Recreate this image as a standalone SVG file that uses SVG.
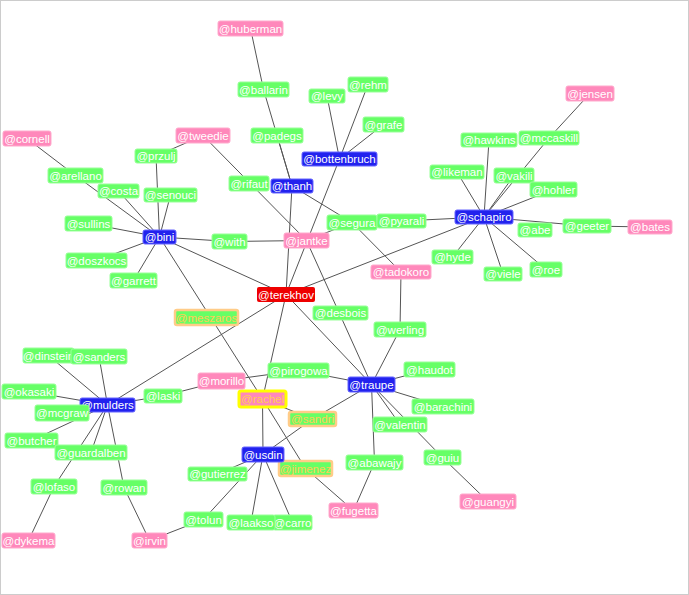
<svg xmlns="http://www.w3.org/2000/svg" width="689" height="595" viewBox="0 0 689 595">
<style>
text{font-family:"Liberation Sans",Arial,sans-serif;font-size:11.5px;fill:#fff;text-anchor:middle;dominant-baseline:central}
.g rect{fill:#66ff66;stroke:#99ff99;stroke-width:1}
.p rect{fill:#ff88bb;stroke:#ffaacc;stroke-width:1}
.b rect{fill:#2222ee;stroke:#6666ff;stroke-width:1}
.r rect{fill:#ee0000}
.o rect{fill:#66ff66;stroke:#ffcc88;stroke-width:2.5}
.o text,.y text{fill:#ffcc55}
.y rect{fill:#ff88bb;stroke:#ffff00;stroke-width:3}
#edges line{stroke:#555;stroke-width:1}
</style>
<rect x="0.5" y="0.5" width="688" height="594" fill="#fff" stroke="#ccc"/>
<g id="edges">
<line x1="250.5" y1="28.5" x2="263.5" y2="89.5"/>
<line x1="263.5" y1="89.5" x2="292" y2="186"/>
<line x1="277" y1="135.5" x2="292" y2="186"/>
<line x1="327" y1="96" x2="339.5" y2="159"/>
<line x1="368" y1="84.5" x2="339.5" y2="159"/>
<line x1="383.5" y1="124.5" x2="339.5" y2="159"/>
<line x1="339.5" y1="159" x2="286" y2="294.5"/>
<line x1="292" y1="186" x2="352" y2="222.5"/>
<line x1="292" y1="186" x2="286" y2="294.5"/>
<line x1="203" y1="135.5" x2="156" y2="156"/>
<line x1="203" y1="135.5" x2="306.5" y2="240.5"/>
<line x1="27" y1="138.5" x2="75.5" y2="175.5"/>
<line x1="75.5" y1="175.5" x2="159.5" y2="237"/>
<line x1="118.5" y1="191" x2="159.5" y2="237"/>
<line x1="156" y1="156" x2="159.5" y2="237"/>
<line x1="170.5" y1="195" x2="159.5" y2="237"/>
<line x1="88.5" y1="223.5" x2="159.5" y2="237"/>
<line x1="96.5" y1="260.5" x2="159.5" y2="237"/>
<line x1="133.5" y1="280.5" x2="159.5" y2="237"/>
<line x1="159.5" y1="237" x2="229.5" y2="241.5"/>
<line x1="229.5" y1="241.5" x2="306.5" y2="240.5"/>
<line x1="159.5" y1="237" x2="286" y2="294.5"/>
<line x1="159.5" y1="237" x2="262.5" y2="399"/>
<line x1="306.5" y1="240.5" x2="352" y2="222.5"/>
<line x1="306.5" y1="240.5" x2="371.5" y2="384.5"/>
<line x1="352" y1="222.5" x2="401" y2="272"/>
<line x1="401.5" y1="221" x2="484" y2="217"/>
<line x1="457" y1="172" x2="484" y2="217"/>
<line x1="489" y1="140" x2="484" y2="217"/>
<line x1="514" y1="175.5" x2="484" y2="217"/>
<line x1="549" y1="138" x2="484" y2="217"/>
<line x1="549" y1="138" x2="590" y2="93.5"/>
<line x1="553.5" y1="189.5" x2="484" y2="217"/>
<line x1="484" y1="217" x2="587" y2="226"/>
<line x1="587" y1="226" x2="650" y2="227"/>
<line x1="484" y1="217" x2="452.5" y2="257"/>
<line x1="484" y1="217" x2="503" y2="274"/>
<line x1="484" y1="217" x2="546" y2="269.5"/>
<line x1="484" y1="217" x2="286" y2="294.5"/>
<line x1="401" y1="272" x2="400" y2="329.5"/>
<line x1="400" y1="329.5" x2="371.5" y2="384.5"/>
<line x1="286" y1="294.5" x2="107.5" y2="405"/>
<line x1="286" y1="294.5" x2="262.5" y2="399"/>
<line x1="286" y1="294.5" x2="371.5" y2="384.5"/>
<line x1="298.5" y1="370.5" x2="221.5" y2="381"/>
<line x1="298.5" y1="370.5" x2="371.5" y2="384.5"/>
<line x1="221.5" y1="381" x2="163" y2="396"/>
<line x1="163" y1="396" x2="107.5" y2="405"/>
<line x1="262.5" y1="399" x2="312.5" y2="419"/>
<line x1="312.5" y1="419" x2="371.5" y2="384.5"/>
<line x1="312.5" y1="419" x2="263" y2="454.5"/>
<line x1="262.5" y1="399" x2="263" y2="454.5"/>
<line x1="262.5" y1="399" x2="305.5" y2="468.5"/>
<line x1="305.5" y1="468.5" x2="353.5" y2="510.5"/>
<line x1="371.5" y1="384.5" x2="429.5" y2="369.5"/>
<line x1="371.5" y1="384.5" x2="443" y2="406.5"/>
<line x1="371.5" y1="384.5" x2="400" y2="424.5"/>
<line x1="371.5" y1="384.5" x2="442.5" y2="457.5"/>
<line x1="442.5" y1="457.5" x2="488" y2="501.5"/>
<line x1="371.5" y1="384.5" x2="374.5" y2="462.5"/>
<line x1="374.5" y1="462.5" x2="353.5" y2="510.5"/>
<line x1="263" y1="454.5" x2="217.5" y2="474"/>
<line x1="263" y1="454.5" x2="203.5" y2="519.5"/>
<line x1="263" y1="454.5" x2="251" y2="522.5"/>
<line x1="263" y1="454.5" x2="292.5" y2="522.5"/>
<line x1="203.5" y1="519.5" x2="149.5" y2="540.5"/>
<line x1="149.5" y1="540.5" x2="124" y2="487.5"/>
<line x1="124" y1="487.5" x2="107.5" y2="405"/>
<line x1="48.5" y1="355.5" x2="107.5" y2="405"/>
<line x1="99" y1="356.5" x2="107.5" y2="405"/>
<line x1="29" y1="391.5" x2="107.5" y2="405"/>
<line x1="62" y1="413" x2="107.5" y2="405"/>
<line x1="31.5" y1="440.5" x2="107.5" y2="405"/>
<line x1="91" y1="452.5" x2="107.5" y2="405"/>
<line x1="54" y1="486.5" x2="107.5" y2="405"/>
<line x1="54" y1="486.5" x2="28.5" y2="540.5"/>
</g>
<g id="n-huberman" class="p"><rect x="218" y="21" width="65" height="15" rx="2"/><text x="250.5" y="28.5">@huberman</text></g>
<g id="n-ballarin" class="g"><rect x="238" y="82" width="51" height="15" rx="2"/><text x="263.5" y="89.5">@ballarin</text></g>
<g id="n-levy" class="g"><rect x="309" y="89" width="36" height="14" rx="2"/><text x="327" y="96">@levy</text></g>
<g id="n-rehm" class="g"><rect x="348" y="77" width="40" height="15" rx="2"/><text x="368" y="84.5">@rehm</text></g>
<g id="n-grafe" class="g"><rect x="363" y="117" width="41" height="15" rx="2"/><text x="383.5" y="124.5">@grafe</text></g>
<g id="n-padegs" class="g"><rect x="251" y="128" width="52" height="15" rx="2"/><text x="277" y="135.5">@padegs</text></g>
<g id="n-bottenbruch" class="b"><rect x="302" y="152" width="75" height="14" rx="2"/><text x="339.5" y="159">@bottenbruch</text></g>
<g id="n-thanh" class="b"><rect x="271" y="179" width="42" height="14" rx="2"/><text x="292" y="186">@thanh</text></g>
<g id="n-tweedie" class="p"><rect x="176" y="128" width="54" height="15" rx="2"/><text x="203" y="135.5">@tweedie</text></g>
<g id="n-cornell" class="p"><rect x="3" y="131" width="48" height="15" rx="2"/><text x="27" y="138.5">@cornell</text></g>
<g id="n-przulj" class="g"><rect x="135" y="149" width="42" height="14" rx="2"/><text x="156" y="156">@przulj</text></g>
<g id="n-arellano" class="g"><rect x="48" y="168" width="55" height="15" rx="2"/><text x="75.5" y="175.5">@arellano</text></g>
<g id="n-costa" class="g"><rect x="98" y="184" width="41" height="14" rx="2"/><text x="118.5" y="191">@costa</text></g>
<g id="n-senouci" class="g"><rect x="144" y="188" width="53" height="14" rx="2"/><text x="170.5" y="195">@senouci</text></g>
<g id="n-rifaut" class="g"><rect x="229" y="176" width="40" height="15" rx="2"/><text x="249" y="183.5">@rifaut</text></g>
<g id="n-sullins" class="g"><rect x="65" y="216" width="47" height="15" rx="2"/><text x="88.5" y="223.5">@sullins</text></g>
<g id="n-bini" class="b"><rect x="143" y="230" width="33" height="14" rx="2"/><text x="159.5" y="237">@bini</text></g>
<g id="n-with" class="g"><rect x="212" y="234" width="35" height="15" rx="2"/><text x="229.5" y="241.5">@with</text></g>
<g id="n-jantke" class="p"><rect x="284" y="233" width="45" height="15" rx="2"/><text x="306.5" y="240.5">@jantke</text></g>
<g id="n-doszkocs" class="g"><rect x="66" y="253" width="61" height="15" rx="2"/><text x="96.5" y="260.5">@doszkocs</text></g>
<g id="n-garrett" class="g"><rect x="110" y="273" width="47" height="15" rx="2"/><text x="133.5" y="280.5">@garrett</text></g>
<g id="n-terekhov" class="r"><rect x="257" y="287" width="58" height="15" rx="2"/><text x="286" y="294.5">@terekhov</text></g>
<g id="n-segura" class="g"><rect x="327" y="215" width="50" height="15" rx="2"/><text x="352" y="222.5">@segura</text></g>
<g id="n-pyarali" class="g"><rect x="377" y="214" width="49" height="14" rx="2"/><text x="401.5" y="221">@pyarali</text></g>
<g id="n-schapiro" class="b"><rect x="455" y="210" width="58" height="14" rx="2"/><text x="484" y="217">@schapiro</text></g>
<g id="n-likeman" class="g"><rect x="430" y="165" width="54" height="14" rx="2"/><text x="457" y="172">@likeman</text></g>
<g id="n-hawkins" class="g"><rect x="461" y="133" width="56" height="14" rx="2"/><text x="489" y="140">@hawkins</text></g>
<g id="n-mccaskill" class="g"><rect x="519" y="131" width="60" height="14" rx="2"/><text x="549" y="138">@mccaskill</text></g>
<g id="n-jensen" class="p"><rect x="566" y="86" width="48" height="15" rx="2"/><text x="590" y="93.5">@jensen</text></g>
<g id="n-vakili" class="g"><rect x="494" y="168" width="40" height="15" rx="2"/><text x="514" y="175.5">@vakili</text></g>
<g id="n-hohler" class="g"><rect x="530" y="182" width="47" height="15" rx="2"/><text x="553.5" y="189.5">@hohler</text></g>
<g id="n-abe" class="g"><rect x="518" y="223" width="34" height="14" rx="2"/><text x="535" y="230">@abe</text></g>
<g id="n-geeter" class="g"><rect x="563" y="219" width="48" height="14" rx="2"/><text x="587" y="226">@geeter</text></g>
<g id="n-bates" class="p"><rect x="628" y="220" width="44" height="14" rx="2"/><text x="650" y="227">@bates</text></g>
<g id="n-hyde" class="g"><rect x="432" y="250" width="41" height="14" rx="2"/><text x="452.5" y="257">@hyde</text></g>
<g id="n-viele" class="g"><rect x="484" y="267" width="38" height="14" rx="2"/><text x="503" y="274">@viele</text></g>
<g id="n-roe" class="g"><rect x="530" y="262" width="32" height="15" rx="2"/><text x="546" y="269.5">@roe</text></g>
<g id="n-tadokoro" class="p"><rect x="371" y="265" width="60" height="14" rx="2"/><text x="401" y="272">@tadokoro</text></g>
<g id="n-desbois" class="g"><rect x="313" y="306" width="55" height="14" rx="2"/><text x="340.5" y="313">@desbois</text></g>
<g id="n-werling" class="g"><rect x="374" y="322" width="52" height="15" rx="2"/><text x="400" y="329.5">@werling</text></g>
<g id="n-haudot" class="g"><rect x="404" y="362" width="51" height="15" rx="2"/><text x="429.5" y="369.5">@haudot</text></g>
<g id="n-traupe" class="b"><rect x="348" y="377" width="47" height="15" rx="2"/><text x="371.5" y="384.5">@traupe</text></g>
<g id="n-pirogowa" class="g"><rect x="268" y="363" width="61" height="15" rx="2"/><text x="298.5" y="370.5">@pirogowa</text></g>
<g id="n-barachini" class="g"><rect x="412" y="399" width="62" height="15" rx="2"/><text x="443" y="406.5">@barachini</text></g>
<g id="n-valentin" class="g"><rect x="373" y="417" width="54" height="15" rx="2"/><text x="400" y="424.5">@valentin</text></g>
<g id="n-abawajy" class="g"><rect x="346" y="455" width="57" height="15" rx="2"/><text x="374.5" y="462.5">@abawajy</text></g>
<g id="n-guiu" class="g"><rect x="424" y="450" width="37" height="15" rx="2"/><text x="442.5" y="457.5">@guiu</text></g>
<g id="n-guangyi" class="p"><rect x="460" y="494" width="56" height="15" rx="2"/><text x="488" y="501.5">@guangyi</text></g>
<g id="n-fugetta" class="p"><rect x="329" y="503" width="49" height="15" rx="2"/><text x="353.5" y="510.5">@fugetta</text></g>
<g id="n-rachel" class="y"><rect x="239" y="391" width="47" height="16" rx="2"/><text x="262.5" y="399">@rachel</text></g>
<g id="n-sandri" class="o"><rect x="289" y="412" width="47" height="14" rx="2"/><text x="312.5" y="419">@sandri</text></g>
<g id="n-jimenez" class="o"><rect x="279" y="461" width="53" height="15" rx="2"/><text x="305.5" y="468.5">@jimenez</text></g>
<g id="n-usdin" class="b"><rect x="242" y="447" width="42" height="15" rx="2"/><text x="263" y="454.5">@usdin</text></g>
<g id="n-meszaros" class="o"><rect x="175" y="310" width="63" height="15" rx="2"/><text x="206.5" y="317.5">@meszaros</text></g>
<g id="n-dinstein" class="g"><rect x="23" y="348" width="51" height="15" rx="2"/><text x="48.5" y="355.5">@dinstein</text></g>
<g id="n-sanders" class="g"><rect x="71" y="349" width="56" height="15" rx="2"/><text x="99" y="356.5">@sanders</text></g>
<g id="n-okasaki" class="g"><rect x="2" y="384" width="54" height="15" rx="2"/><text x="29" y="391.5">@okasaki</text></g>
<g id="n-mulders" class="b"><rect x="80" y="398" width="55" height="14" rx="2"/><text x="107.5" y="405">@mulders</text></g>
<g id="n-laski" class="g"><rect x="144" y="389" width="38" height="14" rx="2"/><text x="163" y="396">@laski</text></g>
<g id="n-morillo" class="p"><rect x="198" y="373" width="47" height="16" rx="2"/><text x="221.5" y="381">@morillo</text></g>
<g id="n-mcgraw" class="g"><rect x="35" y="405" width="54" height="16" rx="2"/><text x="62" y="413">@mcgraw</text></g>
<g id="n-butcher" class="g"><rect x="5" y="433" width="53" height="15" rx="2"/><text x="31.5" y="440.5">@butcher</text></g>
<g id="n-guardalben" class="g"><rect x="55" y="445" width="72" height="15" rx="2"/><text x="91" y="452.5">@guardalben</text></g>
<g id="n-lofaso" class="g"><rect x="31" y="479" width="46" height="15" rx="2"/><text x="54" y="486.5">@lofaso</text></g>
<g id="n-rowan" class="g"><rect x="101" y="480" width="46" height="15" rx="2"/><text x="124" y="487.5">@rowan</text></g>
<g id="n-dykema" class="p"><rect x="2" y="533" width="53" height="15" rx="2"/><text x="28.5" y="540.5">@dykema</text></g>
<g id="n-irvin" class="p"><rect x="132" y="533" width="35" height="15" rx="2"/><text x="149.5" y="540.5">@irvin</text></g>
<g id="n-tolun" class="g"><rect x="184" y="512" width="39" height="15" rx="2"/><text x="203.5" y="519.5">@tolun</text></g>
<g id="n-carro" class="g"><rect x="273" y="515" width="39" height="15" rx="2"/><text x="292.5" y="522.5">@carro</text></g>
<g id="n-laakso" class="g"><rect x="227" y="515" width="48" height="15" rx="2"/><text x="251" y="522.5">@laakso</text></g>
<g id="n-gutierrez" class="g"><rect x="188" y="467" width="59" height="14" rx="2"/><text x="217.5" y="474">@gutierrez</text></g>
</svg>
